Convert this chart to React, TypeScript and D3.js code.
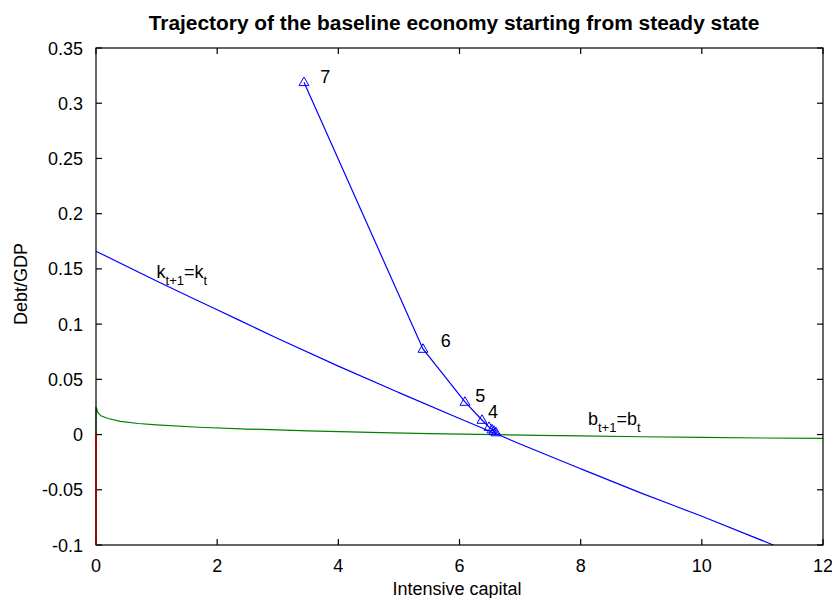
// App.tsx
import { useRef, useEffect } from "react";
import { select, scaleLinear, line, curveMonotoneX, curveLinear, symbol, symbolTriangle } from "d3";

// k_{t+1} = k_t locus
const kLocusX = [0, 1, 2, 3, 4, 5, 6, 7, 8, 9, 10, 11.18];
const kLocusY = [0.166, 0.139, 0.113, 0.087, 0.062, 0.038, 0.0145, -0.0085, -0.031, -0.053, -0.074, -0.1];

// b_{t+1} = b_t locus
const bLocusX = [0, 0, 0.03, 0.08, 0.2, 0.4, 0.7, 1, 1.7, 2.5, 3.5, 4.7, 5.5, 6.6, 7.3, 8, 9, 10, 11, 12];
const bLocusY = [0, 0.025, 0.02, 0.017, 0.0145, 0.012, 0.01, 0.0088, 0.0066, 0.005, 0.0034, 0.0017, 0.0009, 0, -0.0007, -0.0012, -0.002, -0.0026, -0.0031, -0.0035];

// k = 0 boundary
const zeroX = [0, 0];
const zeroY = [0, -0.1];

// trajectory (period 7 -> 0)
const trajX = [3.433, 5.397, 6.09, 6.371, 6.487, 6.536, 6.569, 6.602];
const trajY = [0.319, 0.0775, 0.0295, 0.0132, 0.0068, 0.0046, 0.0032, 0.0019];

// period labels, anchored at baseline in data units
const periodLabels = ["7", "6", "5", "4"];
const periodLabelX = [3.7, 5.69, 6.26, 6.47];
const periodLabelY = [0.3179, 0.0793, 0.0295, 0.0147];

const xTicks = [0, 2, 4, 6, 8, 10, 12];
const yTicks = [-0.1, -0.05, 0, 0.05, 0.1, 0.15, 0.2, 0.25, 0.3, 0.35];

const W = 832;
const H = 598;
const M = { left: 96, right: 823, top: 48, bottom: 545 };
const FONT = "'Liberation Sans', Arial, Helvetica, sans-serif";

const App: React.FC = () => {
  const ref = useRef<SVGSVGElement>(null);

  useEffect(() => {
    if (!ref.current) return;
    const svg = select(ref.current);
    svg.selectAll("*").remove();

    const x = scaleLinear().domain([0, 12]).range([M.left, M.right]);
    const y = scaleLinear().domain([-0.1, 0.35]).range([M.bottom, M.top]);

    svg.append("rect").attr("width", W).attr("height", H).attr("fill", "#fff");

    svg
      .append("defs")
      .append("clipPath")
      .attr("id", "plotclip")
      .append("rect")
      .attr("x", M.left - 2)
      .attr("y", M.top - 2)
      .attr("width", M.right - M.left + 4)
      .attr("height", M.bottom - M.top + 4);

    const plot = svg.append("g").attr("clip-path", "url(#plotclip)");

    const zip = (xs: number[], ys: number[]) => xs.map((v, i) => [v, ys[i]] as [number, number]);
    const straight = line<[number, number]>()
      .x((d) => x(d[0]))
      .y((d) => y(d[1]))
      .curve(curveLinear);
    const smooth = line<[number, number]>()
      .x((d) => x(d[0]))
      .y((d) => y(d[1]))
      .curve(curveMonotoneX);

    // b locus
    plot
      .append("path")
      .datum(zip(bLocusX, bLocusY))
      .attr("d", straight)
      .attr("fill", "none")
      .attr("stroke", "#008000")
      .attr("stroke-width", 1.2);

    // k locus
    plot
      .append("path")
      .datum(zip(kLocusX, kLocusY))
      .attr("d", smooth)
      .attr("fill", "none")
      .attr("stroke", "#0000ff")
      .attr("stroke-width", 1.2);

    // frame + ticks
    const axes = svg.append("g").attr("stroke", "#000").attr("stroke-width", 1.2);
    axes
      .append("rect")
      .attr("x", M.left)
      .attr("y", M.top)
      .attr("width", M.right - M.left)
      .attr("height", M.bottom - M.top)
      .attr("fill", "none");

    const tl = 6;
    xTicks.forEach((t) => {
      axes.append("line").attr("x1", x(t)).attr("x2", x(t)).attr("y1", M.bottom).attr("y2", M.bottom - tl);
      axes.append("line").attr("x1", x(t)).attr("x2", x(t)).attr("y1", M.top).attr("y2", M.top + tl);
    });
    yTicks.forEach((t) => {
      axes.append("line").attr("x1", M.left).attr("x2", M.left + tl).attr("y1", y(t)).attr("y2", y(t));
      axes.append("line").attr("x1", M.right).attr("x2", M.right - tl).attr("y1", y(t)).attr("y2", y(t));
    });

    // k = 0 segment sits on top of the axis
    svg
      .append("path")
      .datum(zip(zeroX, zeroY))
      .attr("d", straight)
      .attr("fill", "none")
      .attr("stroke", "#a00000")
      .attr("stroke-width", 1.8);

    // trajectory
    const traj = zip(trajX, trajY);
    plot
      .append("path")
      .datum(traj)
      .attr("d", straight)
      .attr("fill", "none")
      .attr("stroke", "#0000ff")
      .attr("stroke-width", 1.2);

    const tri = symbol().type(symbolTriangle).size(42);
    plot
      .selectAll("path.marker")
      .data(traj)
      .enter()
      .append("path")
      .attr("class", "marker")
      .attr("d", tri)
      .attr("transform", (d) => `translate(${x(d[0])},${y(d[1]) + 0.5})`)
      .attr("fill", "none")
      .attr("stroke", "#0000ff")
      .attr("stroke-width", 1);

    const txt = svg.append("g").attr("font-family", FONT).attr("fill", "#000");

    txt
      .selectAll("text.xt")
      .data(xTicks)
      .enter()
      .append("text")
      .attr("x", (d) => x(d))
      .attr("y", 572)
      .attr("text-anchor", "middle")
      .attr("font-size", 18)
      .text((d) => String(d));

    txt
      .selectAll("text.yt")
      .data(yTicks)
      .enter()
      .append("text")
      .attr("x", M.left - 13)
      .attr("y", (d) => y(d) + 6.5)
      .attr("text-anchor", "end")
      .attr("font-size", 18)
      .text((d) => String(Math.round(d * 100) / 100));

    txt
      .append("text")
      .attr("x", 457)
      .attr("y", 595)
      .attr("text-anchor", "middle")
      .attr("font-size", 18)
      .text("Intensive capital");

    txt
      .append("text")
      .attr("transform", "translate(27,284) rotate(-90)")
      .attr("text-anchor", "middle")
      .attr("font-size", 18)
      .text("Debt/GDP");

    txt
      .append("text")
      .attr("x", 454)
      .attr("y", 30)
      .attr("text-anchor", "middle")
      .attr("font-size", 20.9)
      .attr("font-weight", "bold")
      .text("Trajectory of the baseline economy starting from steady state");

    // period numbers
    periodLabels.forEach((s, i) => {
      txt
        .append("text")
        .attr("x", x(periodLabelX[i]))
        .attr("y", y(periodLabelY[i]))
        .attr("font-size", 18)
        .text(s);
    });

    // locus labels with subscripts
    const subLabel = (base: string, xd: number, yd: number) => {
      const t = txt.append("text").attr("x", x(xd)).attr("y", y(yd)).attr("font-size", 18);
      t.append("tspan").text(base);
      t.append("tspan").attr("font-size", 13).attr("dy", 7).text("t+1");
      t.append("tspan").attr("dy", -7).text("=" + base);
      t.append("tspan").attr("font-size", 13).attr("dy", 7).text("t");
    };
    subLabel("k", 1.0, 0.1417);
    subLabel("b", 8.12, 0.0086);
  }, []);

  return (
    <div style={{ position: "absolute", left: 0, top: 0 }}>
      <svg ref={ref} width={W} height={H} viewBox={`0 0 ${W} ${H}`} />
    </div>
  );
};

export default App;
